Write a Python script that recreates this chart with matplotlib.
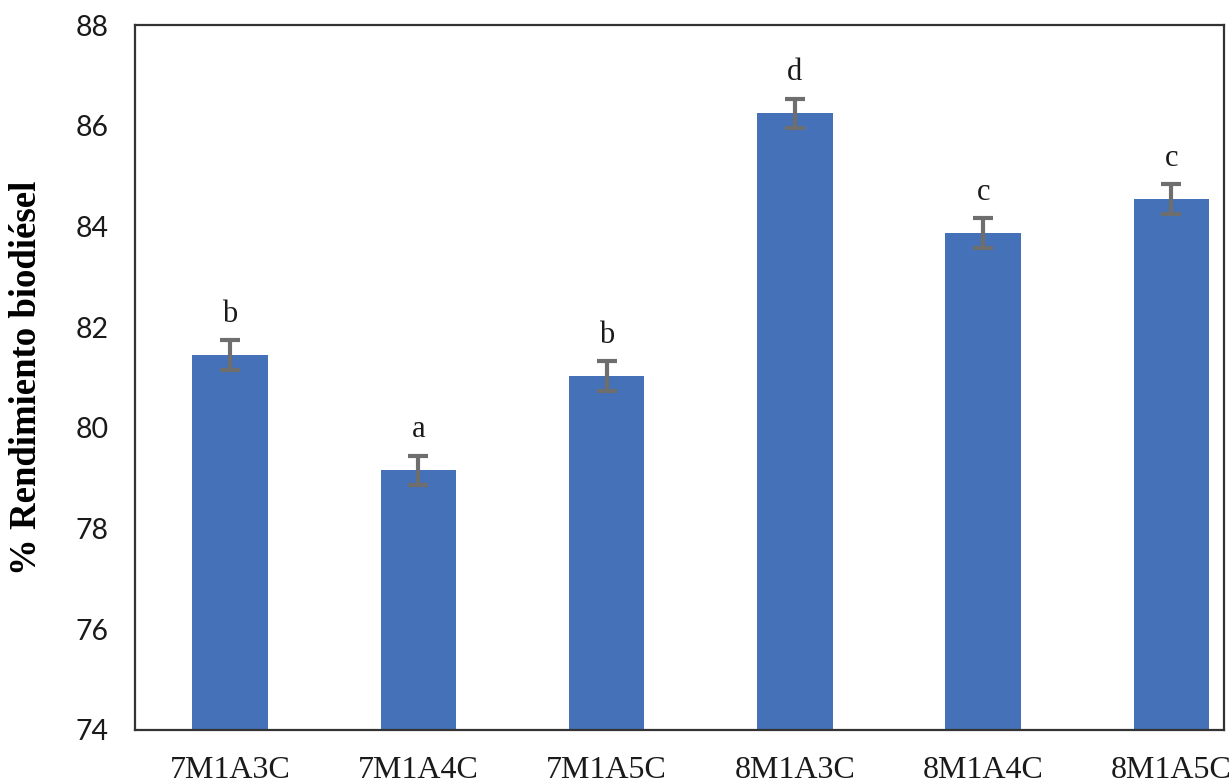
import matplotlib
matplotlib.use('Agg')
import matplotlib.pyplot as plt
import numpy as np

# Datos
tratamientos = ['7M1A3C', '7M1A4C', '7M1A5C', '8M1A3C', '8M1A4C', '8M1A5C']
rendimiento = [81.45, 79.16, 81.03, 86.25, 83.87, 84.55]
error = [0.30, 0.29, 0.30, 0.29, 0.29, 0.30]
letras = ['b', 'a', 'b', 'd', 'c', 'c']

fig = plt.figure(figsize=(12.32, 7.84), dpi=100)
ax = fig.add_axes([0.1096, 0.0689, 0.8840, 0.8992])

x = np.arange(len(tratamientos))
ax.bar(x, rendimiento, width=0.40, color='#4571B8', zorder=2)
ax.errorbar(x, rendimiento, yerr=error, fmt='none', ecolor='#6E6E6E',
            elinewidth=3, capsize=7, capthick=3, zorder=3)

# letras de significancia
for xi, yi, e, l in zip(x, rendimiento, error, letras):
    ax.annotate(l, (xi, yi + e), xytext=(0, 8), textcoords='offset points',
                ha='center', va='bottom', fontsize=22,
                family='Liberation Serif', color='#1a1a1a')

ax.set_xlim(-0.505, 5.28)
ax.set_ylim(74, 88)
ax.set_yticks(np.arange(74, 89, 2))
ax.set_xticks(x)
ax.set_xticklabels(tratamientos, family='Liberation Serif', fontsize=23)
for t in ax.get_yticklabels():
    t.set_family('Lato')
    t.set_fontsize(20.5)
ax.tick_params(axis='both', length=0, colors='#1a1a1a')
ax.tick_params(axis='y', pad=19)
ax.tick_params(axis='x', pad=19)

for s in ax.spines.values():
    s.set_color('#333333')
    s.set_linewidth(1.6)

ax.set_ylabel('% Rendimiento biodiésel', family='Liberation Serif',
              fontweight='bold', fontsize=26.5, va='center')
ax.yaxis.set_label_coords(-0.0996, 0.5)

fig.savefig('out.png', dpi=100)
